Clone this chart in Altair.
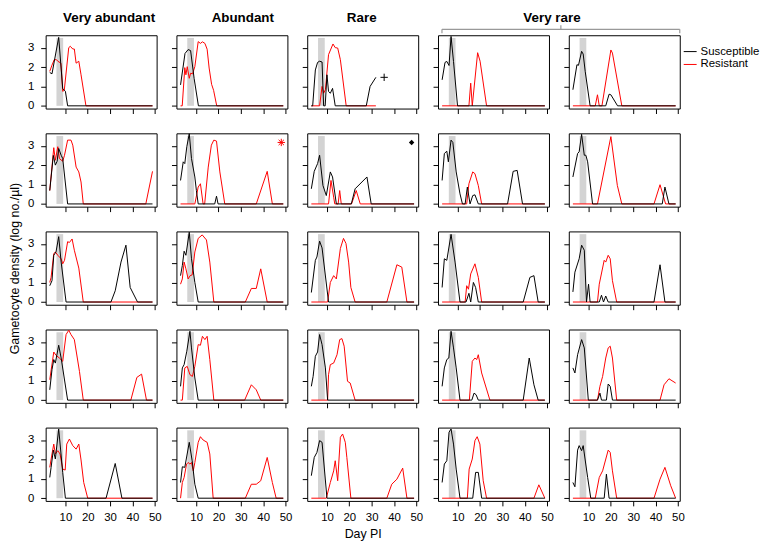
import altair as alt
import pandas as pd

# ---------------- data: (day, log density) breakpoints ----------------
r1c1_sus = [(3,1.72),(4,1.65),(7,3.53),(8.8,0.9),(9.5,0.8),(10,0.75),(11,0),(49,0)]
r1c1_res = [(3,1.78),(4,2.1),(5,2.38),(6,2.38),(6.6,2.3),(8,2.2),(8.8,0.75),(9.5,0.8),(11.5,3.0),(12.2,3.07),(13.3,2.93),(14,2.93),(14.8,2.2),(16,2.3),(17,1.6),(19.2,0),(49,0)]
r1c2_sus = [(3,1.08),(5,2.7),(6.4,2.9),(7.5,2.85),(9.1,1.4),(11,0),(49,0)]
r1c2_res = [(3,0),(3.75,0),(4.9,1.97),(5.4,1.6),(6,2.02),(6.9,1.42),(7.5,1.68),(8.4,1.65),(9.4,2.02),(10.9,3.31),(11.9,3.22),(12.8,3.3),(13.9,3.22),(14.9,2.92),(15.8,1.95),(16.9,1.11),(17.8,0.8),(19.2,0),(49,0)]
r1c3_sus = [(3,0),(3.6,0),(4.8,1.85),(5.8,2.24),(6.7,2.3),(7.8,2.26),(8.5,0),(9.2,0),(10,1.6),(10.7,0.74),(11.5,0.65),(12.5,0.9),(13.7,0),(27.6,0),(29.3,1.0),(31.9,1.47)]
r1c3_res = [(3,0),(6.7,0),(7.8,1.0),(8.5,0.65),(9.3,0.83),(10.7,2.64),(12.7,3.19),(13.7,3.0),(14.8,2.98),(16,2.38),(18.6,0),(31.9,0)]
r1c4_sus = [(3,1.34),(4.3,2.24),(5.1,2.29),(6.1,2.08),(7,3.58),(8.1,2.29),(9.9,0),(49,0)]
r1c4_res = [(3,0),(15,0),(15.8,1.17),(16.5,0),(18.9,2.74),(20,2.3),(22.9,0),(49,0)]
r1c5_sus = [(3,0.83),(4.8,2.12),(5.5,2.09),(6.9,2.81),(7.6,2.67),(8.5,1.78),(10.7,0),(17.7,0),(19.2,0.6),(20,0.57),(23,0),(49,0)]
r1c5_res = [(3,0),(13,0),(14,0.57),(14.8,0),(16,0),(20,2.88),(20.7,2.72),(24.9,0),(49,0)]

r2c1_sus = [(3,0.69),(4.6,2.5),(5.5,2.0),(6.3,2.2),(7,2.86),(8.1,2.51),(8.8,2.34),(11,0),(49,0)]
r2c1_res = [(3,0.69),(4.8,2.9),(5.5,2.25),(6.6,2.95),(7.3,2.34),(8.8,2.2),(9.6,2.51),(11,3.29),(12.5,3.29),(13.3,3.03),(14.8,1.9),(16,1.65),(17,1.13),(18,0),(46,0),(49,1.68)]
r2c2_sus = [(3,1.21),(4.2,2.17),(4.9,2.08),(5.8,2.95),(6.9,3.62),(7.9,2.34),(9.4,1.39),(10.1,0.69),(10.9,0),(18.3,0),(19.1,0.4),(19.8,0),(49,0)]
r2c2_res = [(3,0),(9.4,0),(10.9,0.87),(11.9,1.04),(13.1,0),(13.8,0),(15.4,1.9),(16.8,3.03),(17.9,3.29),(19.1,3.24),(20.6,1.65),(22.8,0),(36.9,0),(41.8,1.68),(44.1,0),(49,0)]
r2c3_sus = [(3,0.78),(4.3,1.68),(5.8,2.08),(6.7,2.51),(8.2,0.95),(9.7,0.43),(11.5,1.65),(12.5,1.39),(14.2,0),(20.9,0),(22.6,0.78),(27.9,1.39),(29.8,0),(49,0)]
r2c3_res = [(3,0),(10.7,0),(11.8,1.21),(13,0.35),(13.5,0),(15,0),(15.7,0.69),(16.4,0),(21,0),(23.1,0.69),(24.9,0),(49,0)]
r2c4_sus = [(3,1.21),(4,2.6),(5.1,2.72),(5.8,2.17),(7,3.29),(7.8,3.17),(9.3,1.65),(11,0.52),(12.1,0),(13.3,0),(14.3,0.87),(15.5,0),(16.7,0.43),(17.7,0.47),(19.2,0),(32.3,0),(34.8,1.68),(36.6,1.73),(39,0),(49,0)]
r2c4_res = [(3,0),(14,0),(15,1.04),(16.7,1.65),(17.7,1.56),(19.2,0.95),(20.7,0),(49,0)]
r2c5_sus = [(3,1.39),(5.1,2.6),(5.8,2.69),(6.9,3.59),(8.1,2.51),(8.8,2.51),(9.6,2.17),(11.8,0),(43,0),(44.2,0.87),(46,0),(49,0)]
r2c5_res = [(3,0),(14,0),(20,3.47),(22.9,0.95),(24.9,0),(39.3,0),(42,0.99),(44.5,0),(49,0)]

r3c1_sus = [(3,0.84),(4,1.1),(4.8,2.41),(5.8,2.58),(7,3.37),(8.1,2.06),(10.3,0),(30.4,0),(32.3,0.58),(34.9,2.06),(37.1,2.93),(39,0.75),(42.3,0),(49,0)]
r3c1_res = [(3,1.01),(3.6,1.27),(4.8,2.5),(5.5,2.58),(6.6,2.41),(8.1,2.23),(8.8,1.97),(9.6,2.15),(11,3.11),(11.8,3.07),(13,3.25),(14,2.67),(16,1.75),(18,0),(49,0)]
r3c2_sus = [(3,1.36),(3.8,1.88),(4.6,2.62),(5.4,2.41),(6.9,3.6),(7.9,2.23),(9.4,1.01),(10.9,0),(49,0)]
r3c2_res = [(3,0.92),(3.8,1.19),(4.6,2.06),(5.4,1.71),(6.4,1.19),(7.3,1.36),(8.2,1.4),(9.4,2.58),(10.9,3.28),(12.7,3.46),(14.6,3.2),(16.1,2.06),(17.9,0),(32,0),(34.7,0.7),(36.9,0.7),(38.9,1.71),(41.8,0),(49,0)]
r3c3_sus = [(3,0.49),(4.8,2.15),(5.5,2.32),(6.7,3.14),(7.8,2.79),(10.7,0),(49,0)]
r3c3_res = [(3,0),(10.3,0),(11.5,1.01),(13,1.36),(14.2,1.19),(16,2.76),(17.4,3.28),(18.5,3.02),(19.7,2.06),(20.7,0.75),(22.6,0),(36.8,0),(41.3,1.92),(43.5,1.8),(45.8,0),(49,0)]
r3c4_sus = [(3,0.75),(4,2.23),(5.1,2.15),(7,3.49),(8.8,2.06),(11,0),(13.7,0),(15,0.45),(15.8,0),(17,1.01),(18,0.75),(19.2,0),(39.3,0),(42.3,1.27),(44.1,1.36),(46,0),(49,0)]
r3c4_res = [(3,0),(13.3,0),(14,0.84),(14.8,0.66),(15.8,1.45),(17.7,1.97),(19.2,1.27),(20.7,0),(49,0)]
r3c5_sus = [(3,0.52),(3.9,1.54),(5.8,2.23),(6.9,2.93),(8.1,2.67),(9.1,0),(10,0.92),(10.7,0),(14.8,0),(15.8,0.35),(16.7,0),(17.7,0.31),(18.8,0),(39.3,0),(42,1.92),(44.2,0),(49,0)]
r3c5_res = [(3,0),(14,0),(14.8,0.92),(17,2.15),(17.7,2.06),(18.8,2.41),(19.7,2.23),(20.7,1.1),(22.6,0),(49,0)]

r4c1_sus = [(3,0.53),(4,1.57),(4.8,2.09),(5.5,1.91),(7,2.83),(8.1,2.17),(11,0),(49,0)]
r4c1_res = [(3,1.05),(4.8,2.48),(5.8,2.31),(7.3,2.17),(8.8,2.0),(10.3,3.38),(11.5,3.6),(12.5,3.38),(14,3.12),(16.3,1.48),(18,0),(39.3,0),(42,1.17),(44.1,1.34),(46.3,0),(49,0)]
r4c2_sus = [(3,0.71),(3.8,1.66),(4.6,1.83),(5.8,2.52),(7.2,3.55),(7.9,2.69),(9.4,1.14),(10.9,0),(49,0)]
r4c2_res = [(3,0),(3.8,0),(4.9,1.66),(6,1.74),(7.2,1.31),(8.3,1.22),(9.4,1.74),(10.9,2.86),(11.9,2.83),(12.8,3.29),(13.9,3.12),(14.9,3.29),(16.1,2.09),(17.9,0),(31.7,0),(34.7,0.79),(36.9,0.53),(38.9,0),(49,0)]
r4c3_sus = [(3,0.71),(3.8,1.22),(4.8,2.26),(5.8,2.48),(6.7,3.38),(7.8,2.86),(9.3,1.66),(10.3,0),(49,0)]
r4c3_res = [(3,0),(10.3,0),(10.7,1.31),(11.5,1.83),(13,1.91),(14.5,2.34),(15.7,3.12),(16.7,3.17),(17.7,2.78),(19.2,0.97),(20.4,0.88),(22.6,0),(49,0)]
r4c4_sus = [(3,0.71),(4,1.66),(5.1,2.09),(6,2.17),(7,3.55),(8.1,2.69),(9.3,1.66),(11,0),(16.3,0),(17.3,0.36),(18.2,0.28),(19.2,0),(39.3,0),(42,2.17),(44.1,0.79),(46,0),(49,0)]
r4c4_res = [(3,0),(15.2,0),(16.5,2.0),(17.7,2.17),(18.5,2.09),(19.2,2.34),(20.7,1.4),(24.4,0),(49,0)]
r4c5_sus = [(3,1.66),(3.9,1.4),(5.1,2.34),(6.9,3.12),(8.1,2.69),(9.9,0),(14,0),(15.1,0.36),(15.8,0),(18,0),(18.8,0.83),(19.7,0.71),(20.7,0),(49,0)]
r4c5_res = [(3,0),(14,0),(15.1,0.71),(16.3,1.22),(17.7,2.17),(18.8,2.69),(19.7,2.78),(20.7,2.17),(22.6,0),(42,0),(43.8,0.79),(46,1.1),(49,0.88)]

r5c1_sus = [(3,1.07),(3.6,1.59),(4.6,2.48),(5.5,2.02),(7,3.57),(8.8,1.33),(10,0),(28.2,0),(32.3,1.79),(35.3,0),(49,0)]
r5c1_res = [(3,1.59),(4,2.28),(4.8,2.79),(5.5,2.28),(6.6,2.45),(7.6,2.28),(8.8,1.5),(9.9,1.45),(10.6,2.79),(11.8,3.05),(13.3,2.71),(14.8,2.53),(16,2.79),(17,1.97),(18.2,0.81),(20,0),(49,0)]
r5c2_sus = [(3,0.81),(3.8,1.62),(4.9,1.59),(6.9,2.88),(8.2,1.93),(9.4,0.72),(10.9,0),(49,0)]
r5c2_res = [(3,0),(3.8,0.81),(4.6,1.07),(5.7,1.76),(6.4,1.84),(7.2,1.76),(7.9,1.84),(8.7,1.41),(9.4,1.84),(10.9,2.88),(11.9,3.17),(13.1,3.0),(14.9,2.88),(16.1,2.28),(17.6,0),(32,0),(34.7,0.72),(36.9,0.72),(38.9,0.9),(41.8,2.1),(44.1,0.81),(45.8,0),(49,0)]
r5c3_sus = [(3,1.16),(4.3,2.1),(5.5,2.36),(6.7,2.97),(7.8,2.88),(10,0),(49,0)]
r5c3_res = [(3,0),(9.7,0),(11.5,0.81),(13,1.41),(13.7,1.93),(14.8,0.9),(16,3.14),(17,3.31),(18.2,2.88),(18.9,2.1),(20.7,0),(36.8,0),(39,0.72),(41.3,0.98),(43.9,1.55),(45.8,0),(49,0)]
r5c4_sus = [(3,0.81),(4,1.76),(5.1,1.93),(6.1,3.4),(7,3.57),(8.1,2.79),(9.3,1.5),(11,0),(16.7,0),(18,1.33),(19.2,1.33),(20.7,0),(49,0)]
r5c4_res = [(3,0),(14.3,0),(15.1,1.5),(16.5,2.02),(17.7,2.97),(18.7,3.17),(19.9,2.79),(21.4,0.9),(22.9,0),(44.1,0),(46.3,0.69),(49,0)]
r5c5_sus = [(3,0.81),(3.9,0.59),(5.1,2.48),(5.8,2.71),(6.9,2.45),(7.6,2.71),(9.6,1.07),(11,0),(17,0),(18,1.24),(19.2,0),(49,0)]
r5c5_res = [(3,0),(13,0),(14.8,1.07),(16.3,1.41),(18.8,2.48),(19.7,2.36),(20.7,1.41),(22.6,0),(39.3,0),(42,0.98),(44.2,1.59),(46.8,0.64),(49,0)]

GRID = [
    [(r1c1_sus, r1c1_res), (r1c2_sus, r1c2_res), (r1c3_sus, r1c3_res), (r1c4_sus, r1c4_res), (r1c5_sus, r1c5_res)],
    [(r2c1_sus, r2c1_res), (r2c2_sus, r2c2_res), (r2c3_sus, r2c3_res), (r2c4_sus, r2c4_res), (r2c5_sus, r2c5_res)],
    [(r3c1_sus, r3c1_res), (r3c2_sus, r3c2_res), (r3c3_sus, r3c3_res), (r3c4_sus, r3c4_res), (r3c5_sus, r3c5_res)],
    [(r4c1_sus, r4c1_res), (r4c2_sus, r4c2_res), (r4c3_sus, r4c3_res), (r4c4_sus, r4c4_res), (r4c5_sus, r4c5_res)],
    [(r5c1_sus, r5c1_res), (r5c2_sus, r5c2_res), (r5c3_sus, r5c3_res), (r5c4_sus, r5c4_res), (r5c5_sus, r5c5_res)],
]

SERIES = ["Susceptible", "Resistant"]
SERIES_COLORS = ["black", "red"]
HEADERS = ["Very abundant", "Abundant", "Rare", "Very rare"]
HEADER_X = [64, 67, 55, 115]          # pixel offset of header centre from panel left
BAND_START, BAND_END, BAND_TOP = 6, 9, 3.5
X_TICKS = [10, 20, 30, 40, 50]
Y_TICKS = [0, 1, 2, 3]
X_DOMAIN = [1.16, 50.84]
Y_DOMAIN = [-0.14, 3.64]
# special markers: (row, col) -> (day, value, symbol, colour, filled)
PLUS = "M0,-1L0,1M-1,0L1,0"
ASTERISK = "M0,-1L0,1M-1,0L1,0M-0.72,-0.72L0.72,0.72M-0.72,0.72L0.72,-0.72"
MARKERS = {
    (0, 2): (35.6, 1.47, PLUS, "black", False),
    (1, 1): (48.1, 3.17, ASTERISK, "red", False),
    (1, 2): (47.9, 3.17, "diamond", "black", True),
}

FONT = "Liberation Sans"
W, H = 112, 74


def to_df(points, name):
    return pd.DataFrame({"day": [p[0] for p in points],
                         "value": [p[1] for p in points],
                         "series": name})


def panel(r, c):
    bottom = (r == 4)
    left = (c == 0)
    xaxis = alt.Axis(values=X_TICKS, labels=bottom, domain=False, grid=False,
                     tickSize=5, tickColor="black", tickWidth=1,
                     labelFontSize=11.5, labelFont=FONT, labelColor="black", labelPadding=6,
                     labelFlush=False,
                     title="Day PI" if (bottom and c == 2) else None,
                     titleFont=FONT, titleFontSize=12.5, titleFontWeight="normal",
                     titleColor="black", titlePadding=4)
    yaxis = alt.Axis(values=Y_TICKS, labels=left, domain=False, grid=False,
                     tickSize=5, tickColor="black", tickWidth=1,
                     labelFontSize=11.5, labelFont=FONT, labelColor="black", labelPadding=7,
                     labelFlush=False,
                     title="Gametocyte density (log no./\u00b5l)" if (left and r == 2) else None,
                     titleFont=FONT, titleFontSize=12.5, titleFontWeight="normal",
                     titleColor="black", titlePadding=6)
    xs = alt.Scale(domain=X_DOMAIN, nice=False, zero=False)
    ys = alt.Scale(domain=Y_DOMAIN, nice=False, zero=False)
    color = alt.Color("series:N",
                      scale=alt.Scale(domain=SERIES, range=SERIES_COLORS),
                      legend=alt.Legend(title=None, orient="none", legendX=643, legendY=9,
                                        symbolType="stroke", symbolStrokeWidth=1, symbolSize=170,
                                        labelFont=FONT, labelFontSize=11.5, labelColor="black",
                                        labelOffset=3, rowPadding=0, padding=0))

    band = pd.DataFrame({"x1": [BAND_START], "x2": [BAND_END], "y1": [0], "y2": [BAND_TOP]})
    layers = [
        alt.Chart(band).mark_rect(color="#d3d3d3").encode(
            x=alt.X("x1:Q", scale=xs, axis=xaxis), x2="x2:Q",
            y=alt.Y("y1:Q", scale=ys, axis=yaxis), y2="y2:Q"),
    ]
    sus, res = GRID[r][c]
    for pts, name in ((res, "Resistant"), (sus, "Susceptible")):
        layers.append(alt.Chart(to_df(pts, name)).mark_line(strokeWidth=1, clip=True).encode(
            x=alt.X("day:Q", scale=xs, axis=xaxis),
            y=alt.Y("value:Q", scale=ys, axis=yaxis),
            color=color))
    if (r, c) in MARKERS:
        d, v, shp, col, filled = MARKERS[(r, c)]
        mdf = pd.DataFrame({"day": [d], "value": [v]})
        if filled:
            mk = alt.Chart(mdf).mark_point(shape=shp, filled=True, size=30, color=col, opacity=1)
        else:
            mk = alt.Chart(mdf).mark_point(shape=shp, filled=False, size=55, color=col,
                                           strokeWidth=1, opacity=1)
        layers.append(mk.encode(x=alt.X("day:Q", scale=xs, axis=xaxis),
                                y=alt.Y("value:Q", scale=ys, axis=yaxis)))
    if r == 0 and c < 4:
        hdf = pd.DataFrame({"label": [HEADERS[c]]})
        layers.append(alt.Chart(hdf).mark_text(font=FONT, fontSize=13.5, fontWeight="bold",
                                               color="black", align="center",
                                               baseline="alphabetic").encode(
            x=alt.value(HEADER_X[c]), y=alt.value(-13), text="label:N"))
    if r == 0 and c == 3:
        one = pd.DataFrame({"k": [0]})
        br = alt.Chart(one).mark_rule(color="#999999", strokeWidth=1.2)
        layers += [
            br.encode(x=alt.value(4), x2=alt.value(244), y=alt.value(-6)),
            br.encode(x=alt.value(4), y=alt.value(-6), y2=alt.value(-2)),
            br.encode(x=alt.value(244), y=alt.value(-6), y2=alt.value(-2)),
            br.encode(x=alt.value(124), y=alt.value(-10), y2=alt.value(-6)),
        ]
    return alt.layer(*layers).properties(width=W, height=H)


panels = [panel(r, c) for r in range(5) for c in range(5)]

chart = alt.ConcatChart(
    concat=panels, columns=5, spacing={"row": 25, "column": 20}, bounds="flush",
    padding={"left": 0, "top": 0, "right": 2, "bottom": 2},
    background="white",
).resolve_scale(color="shared").configure_view(
    stroke="black", strokeWidth=1
)

chart.save("out.html", embed_options={"renderer": "svg", "actions": False})
